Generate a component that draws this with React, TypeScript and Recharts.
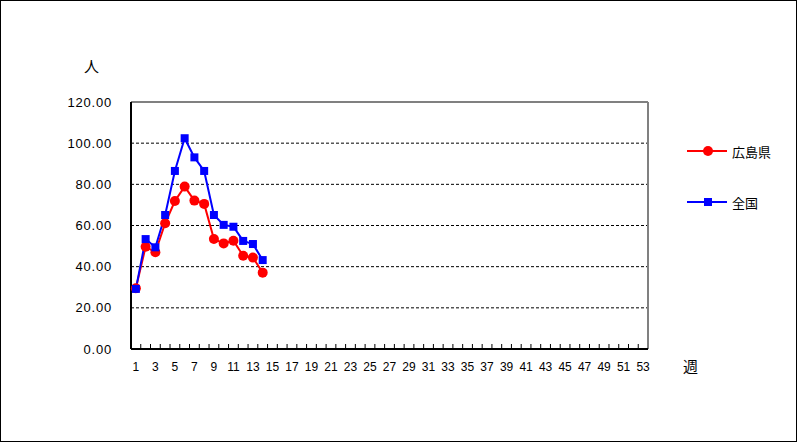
import React from "react";
import { LineChart, Line, XAxis, YAxis, ReferenceLine } from "recharts";

// weeks 1..53 on the category axis
const WEEKS = Array.from({ length: 53 }, (_, i) => i + 1);
const HIROSHIMA = [29.5, 49.7, 47.0, 61.1, 71.9, 78.9, 72.1, 70.5, 53.4, 51.3, 52.6, 45.3, 44.4, 37.1];
const NATIONAL = [29.2, 53.4, 49.4, 65.1, 86.5, 102.4, 93.1, 86.5, 65.1, 60.3, 59.4, 52.5, 51.0, 43.2];
const Y_TICKS = [0, 20, 40, 60, 80, 100, 120];
const GRID_VALUES = [20, 40, 60, 80, 100];

const SERIES = [
    { key: "hiroshima", name: "広島県", color: "#FF0000", shape: "circle" },
    { key: "national", name: "全国", color: "#0000FF", shape: "square" },
];

const data = HIROSHIMA.map((v, i) => ({
    week: WEEKS[i],
    hiroshima: v,
    national: NATIONAL[i],
}));

// labels on odd weeks, tick marks between weeks
const labelTicks = WEEKS.filter((w) => w % 2 === 1);
const boundaryTicks = WEEKS.slice(0, -1).map((w) => w + 0.5);
const xTicks = [...labelTicks, ...boundaryTicks].sort((a, b) => a - b);

const FONT = '"Liberation Sans", Arial, sans-serif';
const CJK = '"Noto Sans CJK JP", sans-serif';

function WeekTick(props: any) {
    const { x, y, payload } = props;
    const v = payload.value;
    if (v % 1 !== 0) {
        return <line x1={x} x2={x} y1={y - 1} y2={y - 5} stroke="#000" strokeWidth={1} />;
    }
    return (
        <text x={x} y={y + 22} textAnchor="middle" fontSize={12} fontFamily={FONT} fill="#000">
            {v}
        </text>
    );
}

function Marker({ shape, color, cx, cy }: any) {
    if (cx == null || cy == null) return null;
    if (shape === "circle") return <circle cx={cx} cy={cy} r={5} fill={color} />;
    return <rect x={cx - 4} y={cy - 4} width={8} height={8} fill={color} />;
}

export default function App() {
    return (
        <div
            style={{
                position: "absolute",
                left: 0,
                top: 0,
                width: 797,
                height: 442,
                background: "#fff",
                outline: "1px solid #000",
                outlineOffset: -1,
            }}
        >
            <LineChart width={797} height={442} data={data} margin={{ top: 102, right: 149, bottom: 63, left: 0 }}>
                {GRID_VALUES.map((g) => (
                    <ReferenceLine key={g} y={g} stroke="#000" strokeWidth={1} strokeDasharray="3 2" />
                ))}
                <ReferenceLine y={120} stroke="#808080" strokeWidth={2} />
                <ReferenceLine x={53.5} stroke="#808080" strokeWidth={2} />
                <XAxis
                    dataKey="week"
                    type="number"
                    domain={[0.5, 53.5]}
                    ticks={xTicks}
                    interval={0}
                    height={30}
                    tickLine={false}
                    tickSize={0}
                    tickMargin={0}
                    axisLine={{ stroke: "#000", strokeWidth: 2 }}
                    tick={<WeekTick />}
                />
                <YAxis
                    domain={[0, 120]}
                    ticks={Y_TICKS}
                    width={131}
                    tickLine={false}
                    tickSize={0}
                    tickMargin={19}
                    tickFormatter={(v: number) => v.toFixed(2)}
                    axisLine={{ stroke: "#000", strokeWidth: 2 }}
                    tick={{ fill: "#000", fontSize: 13, fontFamily: FONT, letterSpacing: 0.8 }}
                />
                {SERIES.map((s) => (
                    <Line
                        key={s.key}
                        dataKey={s.key}
                        name={s.name}
                        stroke={s.color}
                        strokeWidth={2}
                        isAnimationActive={false}
                        dot={(p: any) => <Marker key={`${s.key}-${p.index}`} shape={s.shape} color={s.color} cx={p.cx} cy={p.cy} />}
                        activeDot={false}
                    />
                ))}
            </LineChart>

            <div style={{ position: "absolute", left: 84, top: 56, fontSize: 15, fontFamily: CJK, lineHeight: "20px" }}>人</div>
            <div style={{ position: "absolute", left: 683, top: 356, fontSize: 15, fontFamily: CJK, lineHeight: "20px" }}>週</div>

            {SERIES.map((s, i) => (
                <div
                    key={s.key}
                    style={{ position: "absolute", left: 687, top: 141 + i * 51, height: 20, display: "flex", alignItems: "center" }}
                >
                    <svg width={42} height={20}>
                        <line x1={0} x2={40} y1={10} y2={10} stroke={s.color} strokeWidth={2} />
                        <Marker shape={s.shape} color={s.color} cx={21} cy={10} />
                    </svg>
                    <span style={{ fontSize: 13, fontFamily: CJK, marginLeft: 3, color: "#000" }}>{s.name}</span>
                </div>
            ))}
        </div>
    );
}
